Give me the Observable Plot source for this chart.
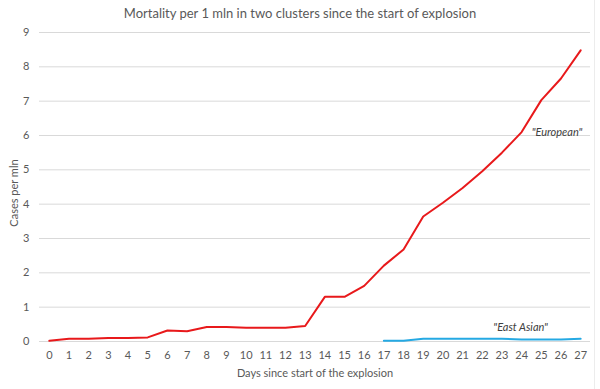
<!DOCTYPE html>
<html>
<head>
<meta charset="utf-8">
<script src="https://cdn.jsdelivr.net/npm/d3@7"></script>
<script src="https://cdn.jsdelivr.net/npm/@observablehq/plot@0.6"></script>
<style>
  body { margin: 0; background: #fff; font-family: Lato, "Open Sans", sans-serif; }
  #wrap { position: relative; width: 600px; height: 389px; }
  #edge { position: absolute; left: 594px; top: 0; width: 1px; height: 389px; background: #ececec; }
  #title { height: 24px; line-height: 26px; text-align: center; font-size: 13px; color: #595959; width: 600px; box-sizing: border-box; }
</style>
</head>
<body>
<div id="wrap">
<div id="title">Mortality per 1 mln in two clusters since the start of explosion</div>
<div id="chart"></div>
<div id="edge"></div>
</div>
<script>
const days = d3.range(0, 28);
const europeanDays = [0,1,2,3,4,5,6,7,8,9,10,11,12,13,14,15,16,17,18,19,20,21,22,23,24,25,26,27];
const europeanValues = [0.02,0.08,0.08,0.1,0.1,0.12,0.32,0.3,0.42,0.42,0.4,0.4,0.4,0.45,1.3,1.3,1.62,2.21,2.68,3.64,4.04,4.47,4.96,5.5,6.1,7.03,7.66,8.48];
const eastAsianDays = [17,18,19,20,21,22,23,24,25,26,27];
const eastAsianValues = [0.02,0.02,0.08,0.08,0.08,0.08,0.08,0.06,0.06,0.06,0.08];
const yTicks = [0,1,2,3,4,5,6,7,8,9];
const annotationLabels = ['"European"', '"East Asian"'];
const annotationDays = [25.8, 23.95];
const annotationValues = [6.1, 0.41];

const european = europeanDays.map((d, i) => ({day: d, value: europeanValues[i]}));
const eastAsian = eastAsianDays.map((d, i) => ({day: d, value: eastAsianValues[i]}));
const annotations = annotationLabels.map((t, i) => ({label: t, day: annotationDays[i], value: annotationValues[i]}));

const chart = Plot.plot({
  width: 600,
  height: 365,
  marginLeft: 39,
  marginRight: 10,
  marginTop: 8,
  marginBottom: 48,
  style: {fontFamily: "Lato, 'Open Sans', sans-serif", fontSize: "11px", color: "#595959", background: "transparent"},
  x: {domain: [-0.5, 27.5], ticks: days, tickFormat: d => d, tickSize: 0, tickPadding: 10, label: null},
  y: {domain: [0, 9], ticks: yTicks, tickSize: 0, tickPadding: 10, label: null},
  marks: [
    Plot.gridY(yTicks, {stroke: "#d9d9d9", strokeOpacity: 1}),
    Plot.lineY(european, {x: "day", y: "value", stroke: "#e8191b", strokeWidth: 2}),
    Plot.lineY(eastAsian, {x: "day", y: "value", stroke: "#25a9e3", strokeWidth: 2}),
    Plot.text(annotations, {x: "day", y: "value", text: "label", fontStyle: "italic", fontSize: 11, fill: "#404040"}),
    Plot.axisX({ticks: days, tickSize: 0, tickPadding: 10, label: null, fill: "#595959"}),
    Plot.axisY({ticks: yTicks, tickSize: 0, tickPadding: 10, label: null, fill: "#595959"}),
    Plot.text(["Days since start of the explosion"], {frameAnchor: "bottom", dy: 35, fill: "#595959", fontSize: 11}),
    Plot.text(["Cases per mln"], {frameAnchor: "left", textAnchor: "middle", dx: -25, dy: 6, rotate: -90, fill: "#595959", fontSize: 11})
  ]
});
document.getElementById("chart").appendChild(chart);
</script>
</body>
</html>
